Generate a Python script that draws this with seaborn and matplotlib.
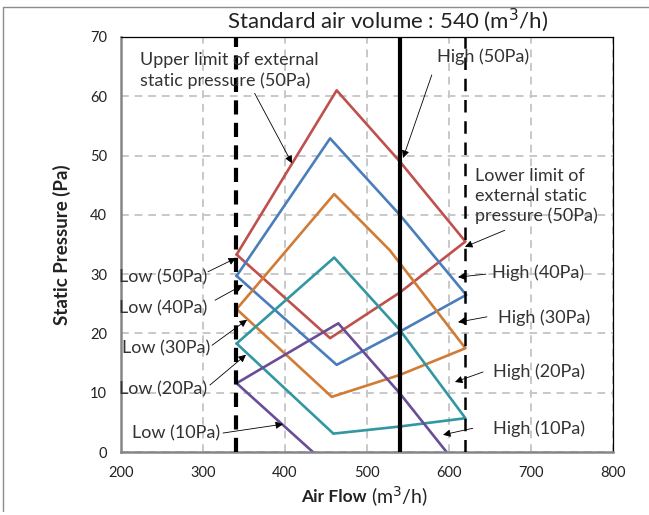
import numpy as np
import pandas as pd
import seaborn as sns
import matplotlib.pyplot as plt
from matplotlib.lines import Line2D

# fan curves, one closed loop per setting
red_flow = [341, 463, 540, 620, 540, 455, 341]
red_pres = [33.3, 61.0, 49.0, 35.5, 26.9, 19.2, 33.3]
blue_flow = [341, 455, 540, 621, 540, 463, 341]
blue_pres = [29.7, 52.9, 40.0, 26.5, 20.3, 14.7, 29.7]
orange_flow = [341, 460, 528, 620, 540, 457, 341]
orange_pres = [24.1, 43.5, 34.0, 17.5, 13.0, 9.3, 24.1]
teal_flow = [341, 460, 540, 620, 540, 459, 341]
teal_pres = [18.3, 32.8, 20.6, 5.7, 4.3, 3.1, 18.3]
purple_flow = [434, 341, 465, 540, 597]
purple_pres = [0.0, 11.6, 21.7, 9.9, 0.0]

series_names = ["50Pa", "40Pa", "30Pa", "20Pa", "10Pa"]
series_flow = [red_flow, blue_flow, orange_flow, teal_flow, purple_flow]
series_pres = [red_pres, blue_pres, orange_pres, teal_pres, purple_pres]
palette = {"50Pa": "#C0504D", "40Pa": "#4A7EBB", "30Pa": "#D07B36",
           "20Pa": "#3297A0", "10Pa": "#6A4D96"}

limit_lines = [340, 620]     # lower / upper limit of external static pressure
standard_volume = 540

rows = []
for name, fx, py in zip(series_names, series_flow, series_pres):
    for i, (a, b) in enumerate(zip(fx, py)):
        rows.append({"series": name, "order": i, "flow": a, "pressure": b})
df = pd.DataFrame(rows)

sns.set_style("white")
plt.rcParams["font.family"] = ["Lato", "DejaVu Sans"]

fig = plt.figure(figsize=(6.49, 5.15), dpi=100)
ax = fig.add_axes([121 / 649, 63 / 515, 492 / 649, 415 / 515])

sns.lineplot(data=df, x="flow", y="pressure", hue="series", palette=palette,
             sort=False, estimator=None, legend=False, linewidth=1.9, ax=ax)

ax.axvline(limit_lines[0], color="black", lw=3.0, ls=(0, (3.4, 2.0)), zorder=5)
ax.axvline(limit_lines[1], color="black", lw=1.8, ls=(0, (5, 3.5)), zorder=5)
ax.axvline(standard_volume, color="black", lw=3.0, zorder=5)

ax.set_xlim(200, 800)
ax.set_ylim(0, 70)
ax.set_xticks(range(200, 801, 100))
ax.set_yticks(range(0, 71, 10))
ax.grid(True, color="#C8C8C8", lw=1.4, ls=(0, (4, 3)))
ax.set_axisbelow(True)

for side in ["left", "bottom"]:
    ax.spines[side].set_color("#868686")
    ax.spines[side].set_linewidth(1.8)
for side in ["top", "right"]:
    ax.spines[side].set_color("black")
    ax.spines[side].set_linewidth(0.9)
ax.tick_params(axis="both", direction="out", length=4, width=1.8, color="#868686",
               labelsize=10.5, labelcolor="#222222", pad=6)
ax.set_xlabel("")
ax.set_ylabel("")

ax.text(0.508, -0.108, "Air Flow ", transform=ax.transAxes, ha="right", va="center",
        fontsize=12.5, fontweight="bold", color="#222222")
ax.text(0.508, -0.108, "(m$^3$/h)", transform=ax.transAxes, ha="left", va="center",
        fontsize=14, color="#222222")
fig.text(61.5 / 649, 1 - 245 / 515, "Static Pressure (Pa)", rotation=90, ha="center",
         va="center", fontsize=13.5, fontweight="bold", color="#222222")
fig.text(388 / 649, 1 - 20 / 515, "Standard air volume : 540 (m$^3$/h)", ha="center",
         va="center", fontsize=16, color="#222222")

# callouts: text, text position, alignment, arrow tail, arrow tip
notes = [
    ("Upper limit of external\nstatic pressure (50Pa)", (223, 64.4), "left", (363, 60.5), (408.5, 48.7)),
    ("High (50Pa)", (641.5, 66.6), "center", (579, 63.6), (544, 49.6)),
    ("Lower limit of\nexternal static\npressure (50Pa)", (631.7, 43.2), "left", (668, 37.4), (619.5, 34.6)),
    ("High (40Pa)", (652, 30.2), "left", (645, 30.0), (611, 29.5)),
    ("High (30Pa)", (659.8, 22.6), "left", (646.3, 22.8), (611, 21.9)),
    ("High (20Pa)", (653.7, 13.5), "left", (641.5, 13.5), (607.3, 11.8)),
    ("High (10Pa)", (653.7, 4.0), "left", (629, 4.0), (592.7, 2.9)),
    ("Low (50Pa)", (305, 29.5), "right", (306, 30.4), (340.2, 32.7)),
    ("Low (40Pa)", (305, 24.3), "right", (314.6, 25.6), (348.8, 28.2)),
    ("Low (30Pa)", (308.5, 17.5), "right", (311, 18.0), (353.7, 22.3)),
    ("Low (20Pa)", (305, 10.5), "right", (308.5, 11.3), (352.4, 16.4)),
    ("Low (10Pa)", (320.7, 3.2), "right", (324.4, 3.2), (397.6, 4.7)),
]
for label, pos, ha, tail, tip in notes:
    ax.text(pos[0], pos[1], label, ha=ha, va="center", fontsize=13,
            color="#333333", linespacing=1.3, zorder=6)
    ax.annotate("", xy=tip, xytext=tail,
                arrowprops=dict(arrowstyle="-|>", color="black", lw=0.6,
                                mutation_scale=11, shrinkA=0, shrinkB=0),
                zorder=7, annotation_clip=False)

# outer chart frame
fig.add_artist(Line2D([3 / 649, 3 / 649], [1 - 511 / 515, 1 - 7 / 515],
                      color="#8C8C8C", lw=1.0, transform=fig.transFigure))
fig.add_artist(Line2D([3 / 649, 1.0], [1 - 7 / 515, 1 - 7 / 515],
                      color="#8C8C8C", lw=1.0, transform=fig.transFigure))

fig.savefig("out.png", dpi=100)
